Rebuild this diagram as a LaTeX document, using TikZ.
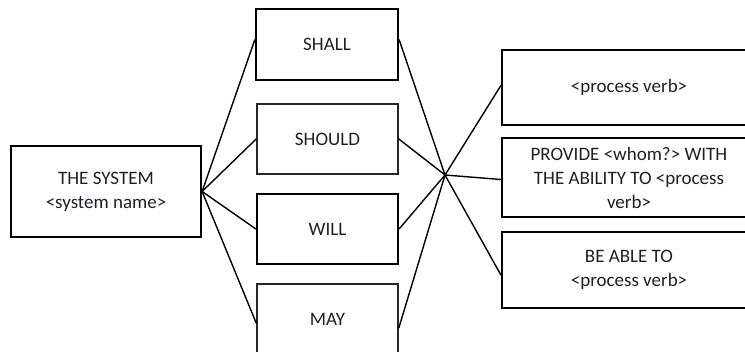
\documentclass[tikz,border=0pt]{standalone}
\usepackage{fontspec}
\setmainfont{Carlito}
\definecolor{txt}{rgb}{0.12,0.12,0.16}
\begin{document}
\begin{tikzpicture}[x=1pt,y=-1pt,
  box/.style={draw=black,line width=2.2pt,fill=none,inner sep=0pt,align=center,
    text=txt,font=\fontsize{19}{24}\selectfont},
  thinbox/.style={box,line width=1.6pt,draw=black!85},
  link/.style={draw=black,line width=1.4pt}]
\useasboundingbox (0,0) rectangle (745,352);
\clip (0,0) rectangle (745,352);
\node[box,minimum width=190pt,minimum height=91pt] (sys) at (106,191.5) {THE SYSTEM\\<system name>};
\node[box,minimum width=142pt,minimum height=71pt] (shall) at (327,44.5) {SHALL};
\node[thinbox,minimum width=141pt,minimum height=70pt] (should) at (327.5,139) {SHOULD};
\node[box,minimum width=141pt,minimum height=70pt] (will) at (327.5,229) {WILL};
\node[thinbox,minimum width=141pt,minimum height=70pt] (may) at (327.5,319) {MAY};
\node[box,minimum width=254pt,minimum height=75pt] (r1) at (629,87.5) {<process verb>};
\node[box,minimum width=254pt,minimum height=79pt] (r2) at (629,177.5) {PROVIDE <whom?> WITH\\THE ABILITY TO <process\\verb>};
\node[box,minimum width=254pt,minimum height=76pt] (r3) at (629,270) {BE ABLE TO\\<process verb>};
\coordinate (hub) at (445,175);
\draw[link] (sys.east) -- ([yshift=5pt]shall.west);
\draw[link] (sys.east) -- (should.west);
\draw[link] (sys.east) -- (will.west);
\draw[link] (sys.east) -- ([yshift=-4pt]may.west);
\draw[link] ([yshift=5pt]shall.east) -- (hub);
\draw[link] (should.east) -- (hub);
\draw[link] (will.east) -- (hub);
\draw[link] ([yshift=-9pt]may.east) -- (hub);
\draw[link] (hub) -- ([yshift=2pt]r1.west);
\draw[link] (hub) -- ([yshift=-2pt]r2.west);
\draw[link] (hub) -- ([yshift=-5pt]r3.west);
\end{tikzpicture}
\end{document}
